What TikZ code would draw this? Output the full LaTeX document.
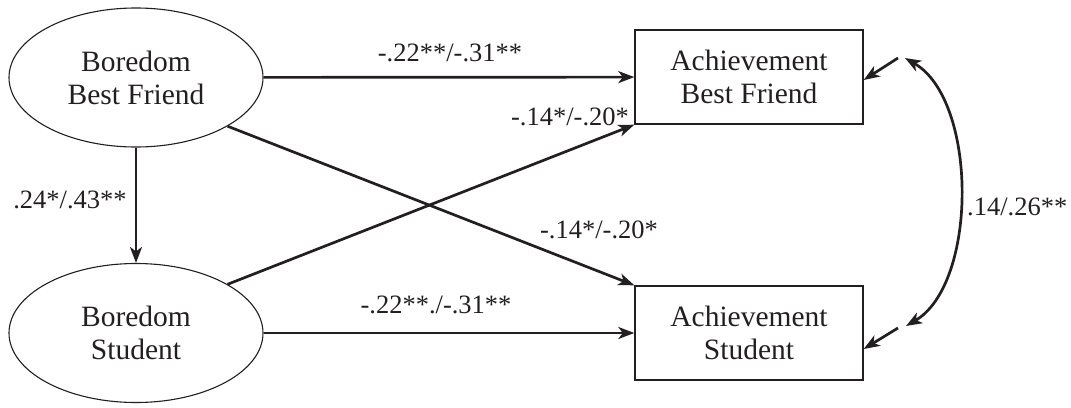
\documentclass[tikz,border=0pt]{standalone}
\usepackage{fontspec}
\setmainfont{Liberation Serif}
\usetikzlibrary{shapes.geometric,arrows.meta,calc}
\definecolor{ink}{HTML}{231F20}
\tikzset{
  latent/.style={draw=ink,line width=1.1pt,ellipse,minimum width=254pt,minimum height=139pt,inner sep=0pt,align=center,font=\fontsize{29.5}{33}\selectfont,text=ink},
  observed/.style={draw=ink,line width=1.4pt,rectangle,minimum width=228pt,minimum height=94pt,inner sep=0pt,align=center,font=\fontsize{29.5}{33}\selectfont,text=ink},
  path/.style={draw=ink,line width=2.7pt,-{Stealth[length=16pt,width=12pt,inset=4.5pt]}},
  cov/.style={draw=ink,line width=2.7pt,{Stealth[length=16pt,width=12pt,inset=4.5pt]}-{Stealth[length=16pt,width=12pt,inset=4.5pt]}},
  coef/.style={font=\fontsize{26.5}{30}\selectfont,text=ink,inner sep=0pt}
}
\begin{document}
\begin{tikzpicture}[x=1pt,y=-1pt]
\useasboundingbox (0,0) rectangle (1071,407);
\node[latent] (e1) at (136,77.5) {Boredom\\Best Friend};
\node[latent] (e2) at (136,333) {Boredom\\Student};
\node[observed] (b1) at (749,77) {Achievement\\Best Friend};
\node[observed] (b2) at (749,333) {Achievement\\Student};

\draw[path] (e1) -- (e2);
\draw[path] (e1) -- (b1);
\draw[path] (e2) -- (b2);
\draw[path] (e1.-28) -- (b2.north west);
\draw[path] (e2.28) -- (b1.south west);

\coordinate (r1) at (898,58);
\coordinate (r2) at (898,328);
\coordinate (c1) at (905,58);
\coordinate (c2) at (906,326);
\draw[path] (r1) -- ($(b1.east)+(0,3)$);
\draw[path] (r2) -- ($(b2.east)+(0,16)$);
\draw[cov] (c1) .. controls (978,100) and (978,284) .. (c2);

\node[coef] (l1) at (70,200) {.24*/.43**};
\node[coef] (l2) at (450,53) {-.22**/-.31**};
\node[coef] (l3) at (436,305) {-.22**./-.31**};
\node[coef] (l4) at (570,117) {-.14*/-.20*};
\node[coef] (l5) at (599,230) {-.14*/-.20*};
\node[coef,anchor=west] (l6) at (967,207) {.14/.26**};
\end{tikzpicture}
\end{document}
